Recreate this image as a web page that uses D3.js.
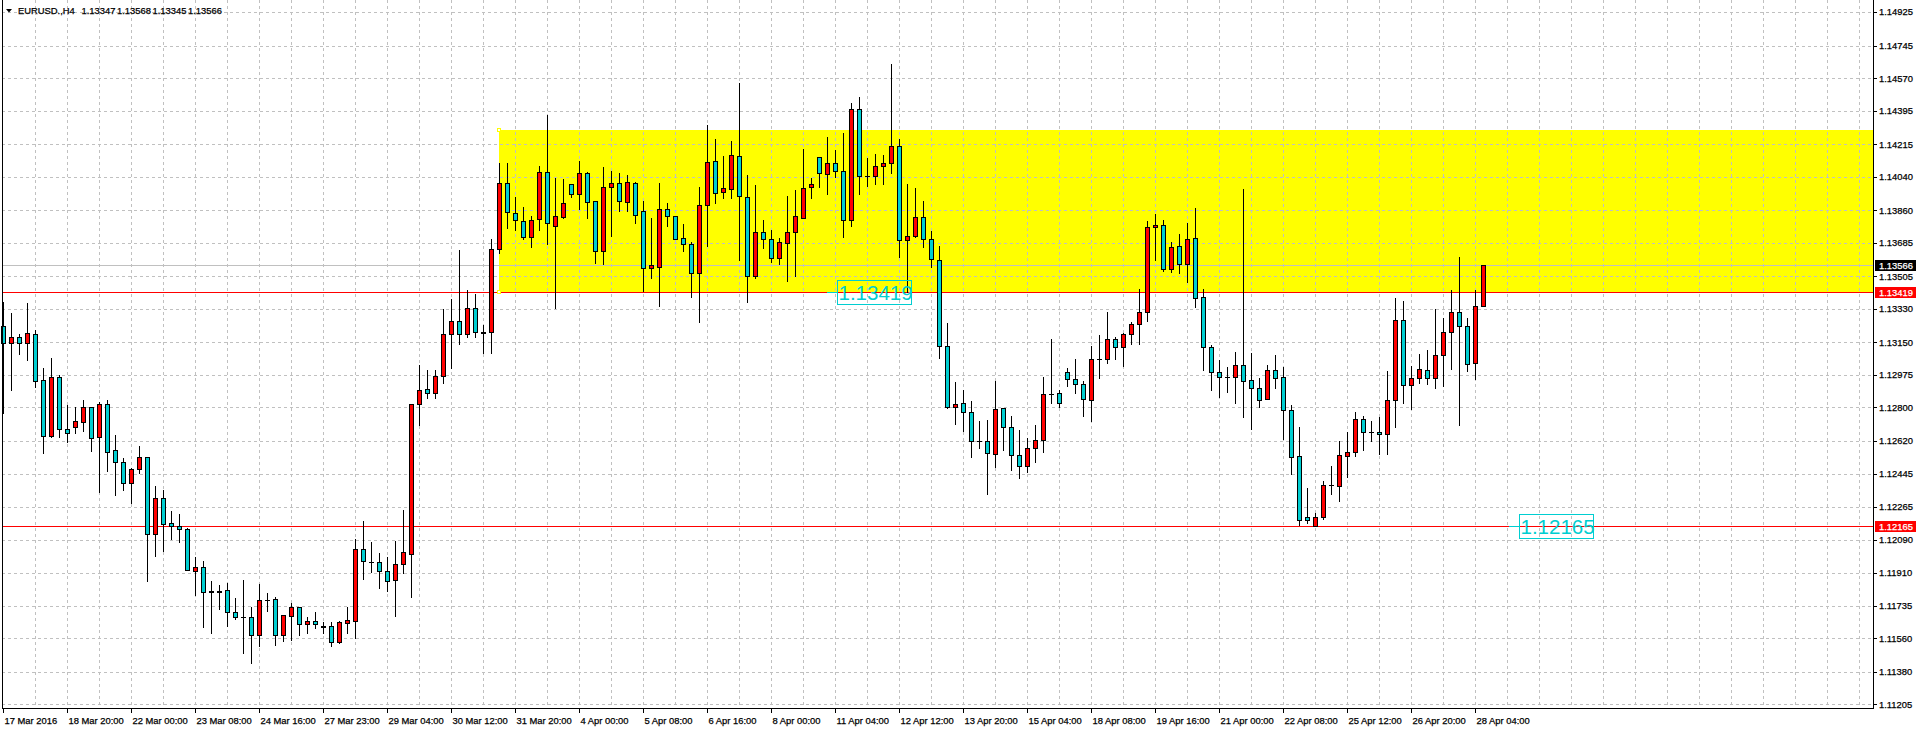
<!DOCTYPE html>
<html><head><meta charset="utf-8">
<script src="https://cdn.jsdelivr.net/npm/d3@7"></script>
<style>html,body{margin:0;padding:0;background:#fff;overflow:hidden}
text{font-family:"Liberation Sans",Arial,sans-serif}
text.ax{stroke:currentColor;stroke-width:0.25px}</style>
</head><body><svg id="c" width="1916" height="729"></svg>
<script>
const symbolTitle = "EURUSD.,H4";
const titleValues = ["1.13347", "1.13568", "1.13345", "1.13566"];

const openP = [1.13238,1.13148,1.13177,1.13145,1.13195,1.12948,1.12649,1.12962,1.12683,1.12694,
1.12724,1.12803,1.12640,1.12817,1.12570,1.12507,1.12393,1.12468,1.12534,1.12119,
1.12312,1.12178,1.12163,1.12147,1.11923,1.11941,1.11812,1.11812,1.11818,1.11701,
1.11674,1.11673,1.11579,1.11767,1.11769,1.11579,1.11678,1.11728,1.11638,1.11653,
1.11624,1.11624,1.11541,1.11640,1.11654,1.12038,1.11971,1.11968,1.11920,1.11872,
1.11958,1.12011,1.12817,1.12898,1.12876,1.12969,1.13194,1.13263,1.13194,1.13333,
1.13204,1.13207,1.13650,1.14005,1.13844,1.13801,1.13715,1.13812,1.14064,1.13774,
1.13826,1.14000,1.13946,1.14059,1.13908,1.13640,1.13983,1.14005,1.13903,1.14005,
1.13855,1.13548,1.13554,1.13865,1.13828,1.13709,1.13677,1.13524,1.13887,1.14125,
1.13957,1.13976,1.14150,1.13930,1.13508,1.13742,1.13704,1.13602,1.13686,1.13742,
1.13820,1.13983,1.14145,1.14053,1.14112,1.14069,1.13806,1.14403,1.14043,1.14043,
1.14096,1.14112,1.14204,1.13699,1.13720,1.13822,1.13704,1.13591,1.13129,1.12804,
1.12823,1.12774,1.12622,1.12620,1.12549,1.12796,1.12694,1.12545,1.12486,1.12582,
1.12625,1.12874,1.12876,1.12989,1.12952,1.12925,1.12840,1.13059,1.13059,1.13167,
1.13124,1.13194,1.13247,1.13312,1.13769,1.13779,1.13546,1.13666,1.13570,1.13709,
1.13392,1.13124,1.12989,1.12966,1.12962,1.13027,1.12948,1.12903,1.12844,1.13000,
1.12964,1.12785,1.12538,1.12212,1.12165,1.12210,1.12382,1.12380,1.12538,1.12559,
1.12737,1.12667,1.12667,1.12656,1.12839,1.13269,1.12919,1.12957,1.13000,1.12957,
1.13081,1.13204,1.13312,1.13237,1.13038,1.13347];

const highP = [1.13369,1.13310,1.13195,1.13363,1.13217,1.13011,1.13066,1.12975,1.12814,1.12804,
1.12840,1.12803,1.12831,1.12840,1.12652,1.12529,1.12473,1.12593,1.12534,1.12378,
1.12357,1.12245,1.12228,1.12154,1.11998,1.11975,1.11868,1.11846,1.11859,1.11778,
1.11873,1.11726,1.11852,1.11802,1.11780,1.11683,1.11748,1.11728,1.11673,1.11700,
1.11649,1.11649,1.11653,1.11730,1.12092,1.12190,1.12077,1.12020,1.11995,1.12084,
1.12249,1.12817,1.13030,1.13002,1.13002,1.13329,1.13383,1.13647,1.13432,1.13410,
1.13243,1.13704,1.14116,1.14116,1.13933,1.13876,1.13829,1.14098,1.14372,1.14035,
1.14026,1.14000,1.14125,1.14067,1.13908,1.14091,1.14071,1.14059,1.14048,1.14010,
1.13911,1.13818,1.14005,1.13898,1.13828,1.13785,1.13688,1.13985,1.14320,1.14241,
1.14153,1.14231,1.14544,1.14050,1.13996,1.13808,1.13754,1.13709,1.13937,1.13969,
1.14189,1.14032,1.14145,1.14254,1.14182,1.14275,1.14438,1.14467,1.14139,1.14161,
1.14157,1.14644,1.14243,1.14000,1.13978,1.13910,1.13749,1.13666,1.13254,1.12936,
1.12894,1.12837,1.12729,1.12733,1.12943,1.12797,1.12754,1.12679,1.12635,1.12706,
1.12966,1.13168,1.12894,1.13011,1.13061,1.12943,1.13131,1.13190,1.13312,1.13181,
1.13202,1.13258,1.13437,1.13802,1.13840,1.13808,1.13691,1.13732,1.13793,1.13872,
1.13437,1.13136,1.13055,1.13019,1.13097,1.13974,1.13091,1.12960,1.13029,1.13082,
1.13018,1.12814,1.12695,1.12366,1.12232,1.12405,1.12486,1.12620,1.12668,1.12778,
1.12754,1.12728,1.12751,1.12996,1.13387,1.13372,1.13023,1.13088,1.13109,1.13329,
1.13283,1.13432,1.13610,1.13280,1.13432,1.13568];

const lowP = [1.12772,1.12894,1.13088,1.13055,1.12912,1.12554,1.12640,1.12643,1.12616,1.12665,
1.12675,1.12568,1.12348,1.12461,1.12330,1.12357,1.12289,1.12450,1.11869,1.12004,
1.12031,1.12095,1.12079,1.11927,1.11792,1.11622,1.11587,1.11716,1.11628,1.11662,
1.11479,1.11429,1.11518,1.11708,1.11525,1.11547,1.11551,1.11578,1.11590,1.11613,
1.11590,1.11518,1.11533,1.11590,1.11561,1.11879,1.11918,1.11832,1.11816,1.11681,
1.11912,1.11783,1.12708,1.12853,1.12853,1.12933,1.13014,1.13143,1.13177,1.13177,
1.13095,1.13095,1.13629,1.13763,1.13754,1.13707,1.13661,1.13754,1.13679,1.13336,
1.13820,1.13930,1.13868,1.13820,1.13575,1.13570,1.13723,1.13858,1.13858,1.13790,
1.13428,1.13498,1.13347,1.13775,1.13704,1.13643,1.13396,1.13258,1.13670,1.13901,
1.13924,1.13928,1.13593,1.13369,1.13494,1.13659,1.13584,1.13573,1.13482,1.13508,
1.13817,1.13924,1.13987,1.13946,1.14039,1.13715,1.13777,1.13949,1.13990,1.14000,
1.14003,1.14059,1.13610,1.13419,1.13716,1.13664,1.13554,1.13068,1.12796,1.12713,
1.12675,1.12533,1.12584,1.12334,1.12482,1.12572,1.12464,1.12421,1.12453,1.12507,
1.12561,1.12826,1.12801,1.12916,1.12876,1.12754,1.12729,1.12957,1.13041,1.13062,
1.13025,1.13140,1.13140,1.13267,1.13593,1.13535,1.13528,1.13521,1.13476,1.13342,
1.13002,1.12894,1.12858,1.12885,1.12823,1.12751,1.12685,1.12804,1.12844,1.12907,
1.12632,1.12441,1.12170,1.12181,1.12162,1.12203,1.12335,1.12299,1.12428,1.12541,
1.12572,1.12620,1.12552,1.12552,1.12697,1.12826,1.12794,1.12933,1.12925,1.12903,
1.12916,1.13009,1.12708,1.12998,1.12955,1.13345];

const closeP = [1.13148,1.13177,1.13148,1.13199,1.12944,1.12649,1.12962,1.12683,1.12661,1.12726,
1.12803,1.12635,1.12817,1.12563,1.12506,1.12393,1.12470,1.12534,1.12119,1.12312,
1.12172,1.12163,1.12146,1.11927,1.11941,1.11807,1.11809,1.11811,1.11700,1.11673,
1.11673,1.11578,1.11766,1.11766,1.11579,1.11683,1.11728,1.11638,1.11653,1.11638,
1.11623,1.11541,1.11646,1.11658,1.12038,1.11974,1.11970,1.11920,1.11866,1.11958,
1.12022,1.12817,1.12892,1.12876,1.12968,1.13194,1.13263,1.13194,1.13333,1.13204,
1.13203,1.13650,1.14005,1.13849,1.13806,1.13715,1.13806,1.14064,1.13790,1.13828,
1.13898,1.13946,1.14059,1.13903,1.13640,1.13983,1.14005,1.13908,1.14010,1.13833,
1.13548,1.13564,1.13865,1.13828,1.13704,1.13677,1.13524,1.13887,1.14119,1.13954,
1.13978,1.14155,1.13935,1.13507,1.13742,1.13704,1.13602,1.13688,1.13742,1.13828,
1.13978,1.14000,1.14059,1.14112,1.14069,1.13806,1.14403,1.14043,1.14042,1.14100,
1.14112,1.14204,1.13699,1.13720,1.13822,1.13704,1.13597,1.13129,1.12804,1.12817,
1.12774,1.12622,1.12621,1.12554,1.12790,1.12694,1.12545,1.12486,1.12582,1.12625,
1.12873,1.12873,1.12823,1.12952,1.12925,1.12844,1.13059,1.13058,1.13167,1.13124,
1.13194,1.13247,1.13312,1.13769,1.13779,1.13546,1.13661,1.13570,1.13704,1.13387,
1.13124,1.12989,1.12962,1.12965,1.13027,1.12944,1.12903,1.12839,1.13000,1.12959,
1.12785,1.12533,1.12196,1.12196,1.12212,1.12382,1.12381,1.12543,1.12561,1.12737,
1.12667,1.12666,1.12656,1.12839,1.13269,1.12919,1.12957,1.13005,1.12957,1.13081,
1.13204,1.13312,1.13237,1.13032,1.13344,1.13566];

const priceTicks = [1.14925,1.14745,1.14570,1.14395,1.14215,1.14040,1.13860,1.13685,1.13505,1.13330,
1.13150,1.12975,1.12800,1.12620,1.12445,1.12265,1.12090,1.11910,1.11735,1.11560,1.11380,1.11205];

const timeLabels = ["17 Mar 2016","18 Mar 20:00","22 Mar 00:00","23 Mar 08:00","24 Mar 16:00",
"27 Mar 23:00","29 Mar 04:00","30 Mar 12:00","31 Mar 20:00","4 Apr 00:00","5 Apr 08:00",
"6 Apr 16:00","8 Apr 00:00","11 Apr 04:00","12 Apr 12:00","13 Apr 20:00","15 Apr 04:00",
"18 Apr 08:00","19 Apr 16:00","21 Apr 00:00","22 Apr 08:00","25 Apr 12:00","26 Apr 20:00","28 Apr 04:00"];
const labelEvery = 8;

const bidPrice = 1.13566;
const levelPrices = [1.13419, 1.12165];
const levelLabelAt = [104.3, 189.5];   // bar index where the level text sits
const zoneTop = 1.14291, zoneBottom = 1.13419, zoneStartBar = 62;

// ---------------- drawing ----------------
const W = 1916, H = 729;
const plotL = 2, plotR = 1873, plotB = 708;
const BULL = "#ff0000", BEAR = "#00ced1", CYAN = "#00ced1";
const svg = d3.select("#c");
svg.append("rect").attr("width", W).attr("height", H).attr("fill", "#fff");

const x = d3.scaleLinear().domain([0, 1]).range([3, 11]);
const y = d3.scaleLinear().domain([1.11185, 1.14990]).range([708, 0]);
const col = i => Math.floor(x(i)) + 0.5;
const row = v => Math.round(y(v)) + 0.5;

// zone
svg.append("rect")
  .attr("x", Math.floor(x(zoneStartBar)))
  .attr("y", Math.round(y(zoneTop)))
  .attr("width", plotR - Math.floor(x(zoneStartBar)))
  .attr("height", Math.round(y(zoneBottom)) - Math.round(y(zoneTop)))
  .attr("fill", "#ffff00");

// grid
const grid = svg.append("g").attr("stroke", "#c0c0c0").attr("stroke-dasharray", "3,3").attr("shape-rendering", "crispEdges");
priceTicks.forEach(v => {
  grid.append("line").attr("x1", plotL).attr("x2", plotR).attr("y1", row(v)).attr("y2", row(v));
});
for (let i = 4; x(i) < plotR - 2; i += 4) {
  grid.append("line").attr("x1", col(i)).attr("x2", col(i)).attr("y1", 0).attr("y2", plotB);
}

// bid line
svg.append("line").attr("x1", plotL).attr("x2", plotR).attr("y1", row(bidPrice)).attr("y2", row(bidPrice))
  .attr("stroke", "#c0c0c0").attr("shape-rendering", "crispEdges");

// level lines
levelPrices.forEach(p => {
  svg.append("line").attr("x1", plotL).attr("x2", plotR).attr("y1", row(p)).attr("y2", row(p))
    .attr("stroke", "#ff0000").attr("shape-rendering", "crispEdges");
});

// zone corner handles
[zoneTop, zoneBottom].forEach(p => {
  svg.append("rect").attr("x", Math.floor(x(zoneStartBar)) - 1.5).attr("y", Math.round(y(p)) - 1.5)
    .attr("width", 3).attr("height", 3).attr("fill", "#fff").attr("stroke", "#ffff00");
});

// candles
const cg = svg.append("g").attr("shape-rendering", "crispEdges");
openP.forEach((o, i) => {
  const c = closeP[i], h = highP[i], l = lowP[i];
  const cx = col(i);
  cg.append("line").attr("x1", cx).attr("x2", cx)
    .attr("y1", Math.round(y(h))).attr("y2", Math.round(y(l)) + 1)
    .attr("stroke", "#000");
  const top = Math.round(y(Math.max(o, c))), bot = Math.round(y(Math.min(o, c)));
  if (bot - top < 1) {
    cg.append("line").attr("x1", cx - 2.5).attr("x2", cx + 2.5).attr("y1", top + 0.5).attr("y2", top + 0.5)
      .attr("stroke", "#000");
  } else {
    cg.append("rect").attr("x", cx - 2).attr("y", top + 0.5).attr("width", 4).attr("height", bot - top)
      .attr("fill", c > o ? BULL : BEAR).attr("stroke", "#000");
  }
});

// level text labels
levelPrices.forEach((p, k) => {
  const lx = Math.floor(x(levelLabelAt[k]));
  const ly = Math.round(y(p));
  svg.append("line").attr("x1", lx - 10).attr("x2", lx).attr("y1", ly + 0.5).attr("y2", ly + 0.5)
    .attr("stroke", CYAN).attr("shape-rendering", "crispEdges");
  svg.append("rect").attr("x", lx + 0.5).attr("y", ly - 11.5).attr("width", 74).attr("height", 24)
    .attr("fill", "none").attr("stroke", CYAN).attr("stroke-width", 1);
  svg.append("text").attr("x", lx + 1.5).attr("y", ly + 8).attr("font-size", 20.5).attr("fill", CYAN)
    .text(p.toFixed(5));
});

// frame
const fr = svg.append("g").attr("stroke", "#000").attr("shape-rendering", "crispEdges");
fr.append("line").attr("x1", plotL + 0.5).attr("x2", plotL + 0.5).attr("y1", 0).attr("y2", plotB + 1);
fr.append("line").attr("x1", plotR + 0.5).attr("x2", plotR + 0.5).attr("y1", 0).attr("y2", plotB + 1);
fr.append("line").attr("x1", plotL).attr("x2", plotR + 1).attr("y1", plotB + 0.5).attr("y2", plotB + 0.5);

// price axis
const FS = 9.4;
priceTicks.forEach(v => {
  fr.append("line").attr("x1", plotR + 1).attr("x2", plotR + 4).attr("y1", row(v)).attr("y2", row(v));
  svg.append("text").attr("class", "ax").attr("x", plotR + 6).attr("y", y(v) + 3.4).attr("font-size", FS)
    .style("color", "#000").attr("fill", "#000").text(v.toFixed(5));
});
const tagged = [[bidPrice, "#000"], [levelPrices[0], "#ff0000"], [levelPrices[1], "#ff0000"]];
tagged.forEach(([p, bg]) => {
  const yy = Math.round(y(p));
  svg.append("rect").attr("x", plotR + 2).attr("y", yy - 5).attr("width", W - plotR - 2).attr("height", 11).attr("fill", bg);
  svg.append("text").attr("class", "ax").attr("x", plotR + 6).attr("y", yy + 3.9).attr("font-size", FS)
    .style("color", "#fff").attr("fill", "#fff").text(p.toFixed(5));
});

// time axis
timeLabels.forEach((t, j) => {
  const cx = col(j * labelEvery);
  fr.append("line").attr("x1", cx).attr("x2", cx).attr("y1", plotB + 1).attr("y2", plotB + 5);
  svg.append("text").attr("class", "ax").attr("x", cx + 1).attr("y", 724).attr("font-size", FS)
    .style("color", "#000").attr("fill", "#000").text(t);
});

// title
svg.append("path").attr("d", "M6,9 L12,9 L9,12.5 Z").attr("fill", "#000");
svg.append("text").attr("class", "ax").attr("x", 18).attr("y", 13.5).attr("font-size", FS)
  .style("color", "#000").attr("fill", "#000").text(symbolTitle);
titleValues.forEach((t, k) => {
  svg.append("text").attr("class", "ax").attr("x", 81.5 + k * 35.5).attr("y", 13.5).attr("font-size", FS)
    .style("color", "#000").attr("fill", "#000").text(t);
});
</script></body></html>
